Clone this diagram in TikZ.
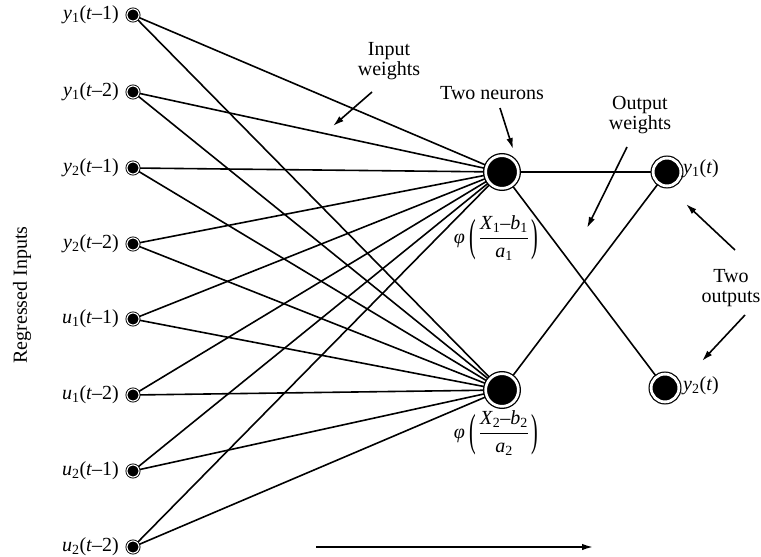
\documentclass[tikz,border=0pt]{standalone}
\usepackage{fontspec}
\setmainfont{Liberation Serif}
\usetikzlibrary{arrows.meta,backgrounds}
\newcommand{\inlab}[3]{\textit{#1}\textsubscript{#2}(\textit{t}–#3)}
\newcommand{\tallparen}[1]{\raisebox{-0.34em}{\scalebox{1}[2.25]{#1}}}
\newcommand{\philab}[1]{\textit{φ}\hspace{0.25em}\tallparen{(}\hspace{0.12em}$\displaystyle\frac{\mbox{\textit{X}\textsubscript{#1}–\textit{b}\textsubscript{#1}}}{\mbox{\textit{a}\textsubscript{#1}}}$\hspace{0.12em}\tallparen{)}}
\begin{document}
\begin{tikzpicture}[x=1pt,y=-1pt,
  font=\fontsize{20}{22.5}\selectfont,
  inp/.style={circle,fill=black,draw=black,double=white,line width=0.9pt,double distance=1.1pt,inner sep=0pt,minimum size=12.1pt},
  neu/.style={circle,fill=black,draw=black,double=white,line width=1.3pt,double distance=2.7pt,inner sep=0pt,minimum size=32.7pt},
  outn/.style={circle,fill=black,draw=black,double=white,line width=1.2pt,double distance=2.8pt,inner sep=0pt,minimum size=27.8pt},
  conn/.style={line width=1.6pt},
  lbl/.style={inner sep=0pt,align=center},
  ann/.style={line width=1.6pt,-{Latex[length=11pt,width=6.5pt]}}]
\useasboundingbox (0,0) rectangle (761,557);

% input nodes
\node[inp] (i1) at (133,15) {};
\node[inp] (i2) at (133,92) {};
\node[inp] (i3) at (133,168) {};
\node[inp] (i4) at (133,244) {};
\node[inp] (i5) at (133,319) {};
\node[inp] (i6) at (133,395) {};
\node[inp] (i7) at (133,471) {};
\node[inp] (i8) at (133,547) {};

\node[lbl,anchor=east] (l1) at (119,15) {\inlab{y}{1}{1}};
\node[lbl,anchor=east] (l2) at (119,92) {\inlab{y}{1}{2}};
\node[lbl,anchor=east] (l3) at (119,168) {\inlab{y}{2}{1}};
\node[lbl,anchor=east] (l4) at (119,244) {\inlab{y}{2}{2}};
\node[lbl,anchor=east] (l5) at (119,319) {\inlab{u}{1}{1}};
\node[lbl,anchor=east] (l6) at (119,395) {\inlab{u}{1}{2}};
\node[lbl,anchor=east] (l7) at (119,471) {\inlab{u}{2}{1}};
\node[lbl,anchor=east] (l8) at (119,547) {\inlab{u}{2}{2}};

% neurons and outputs
\node[neu] (n1) at (502,172) {};
\node[neu] (n2) at (502,390) {};
\node[outn] (o1) at (667,172) {};
\node[outn] (o2) at (665,388) {};

\node[lbl,anchor=west] (ol1) at (683,169) {\textit{y}\textsubscript{1}(\textit{t})};
\node[lbl,anchor=west] (ol2) at (683,386) {\textit{y}\textsubscript{2}(\textit{t})};

\node[lbl] (f1) at (496,238) {\philab{1}};
\node[lbl] (f2) at (496,433) {\philab{2}};

% connectors
\begin{scope}[on background layer]
\foreach \i in {1,...,8}{
  \draw[conn] (i\i.center) -- (n1.center);
  \draw[conn] (i\i.center) -- (n2.center);
}
\draw[conn] (n1.center) -- (o1.center);
\draw[conn] (n1.center) -- (o2.center);
\draw[conn] (n2.center) -- (o1.center);
\end{scope}

% annotations
\node[lbl] (tiw) at (389,61) {Input\\[-2pt]weights};
\coordinate (aiw1) at (372,92);
\coordinate (aiw2) at (333,126);
\draw[ann] (aiw1) -- (aiw2);

\node[lbl] (ttn) at (492,93) {Two neurons};
\coordinate (atn1) at (500,108);
\coordinate (atn2) at (513,149);
\draw[ann] (atn1) -- (atn2);

\node[lbl] (tow) at (640,115) {Output\\[-2pt]weights};
\coordinate (aow1) at (627,147);
\coordinate (aow2) at (587,228);
\draw[ann] (aow1) -- (aow2);

\node[lbl] (tto) at (731,288) {Two\\[-2pt]outputs};
\coordinate (ato1) at (735,250);
\coordinate (ato2) at (686,204);
\draw[ann] (ato1) -- (ato2);
\coordinate (ato3) at (745,315);
\coordinate (ato4) at (702,361);
\draw[ann] (ato3) -- (ato4);

\node[lbl,rotate=90] (tri) at (22,295) {Regressed Inputs};

\coordinate (ba1) at (316,547);
\coordinate (ba2) at (593,547);
\draw[ann] (ba1) -- (ba2);
\end{tikzpicture}
\end{document}
